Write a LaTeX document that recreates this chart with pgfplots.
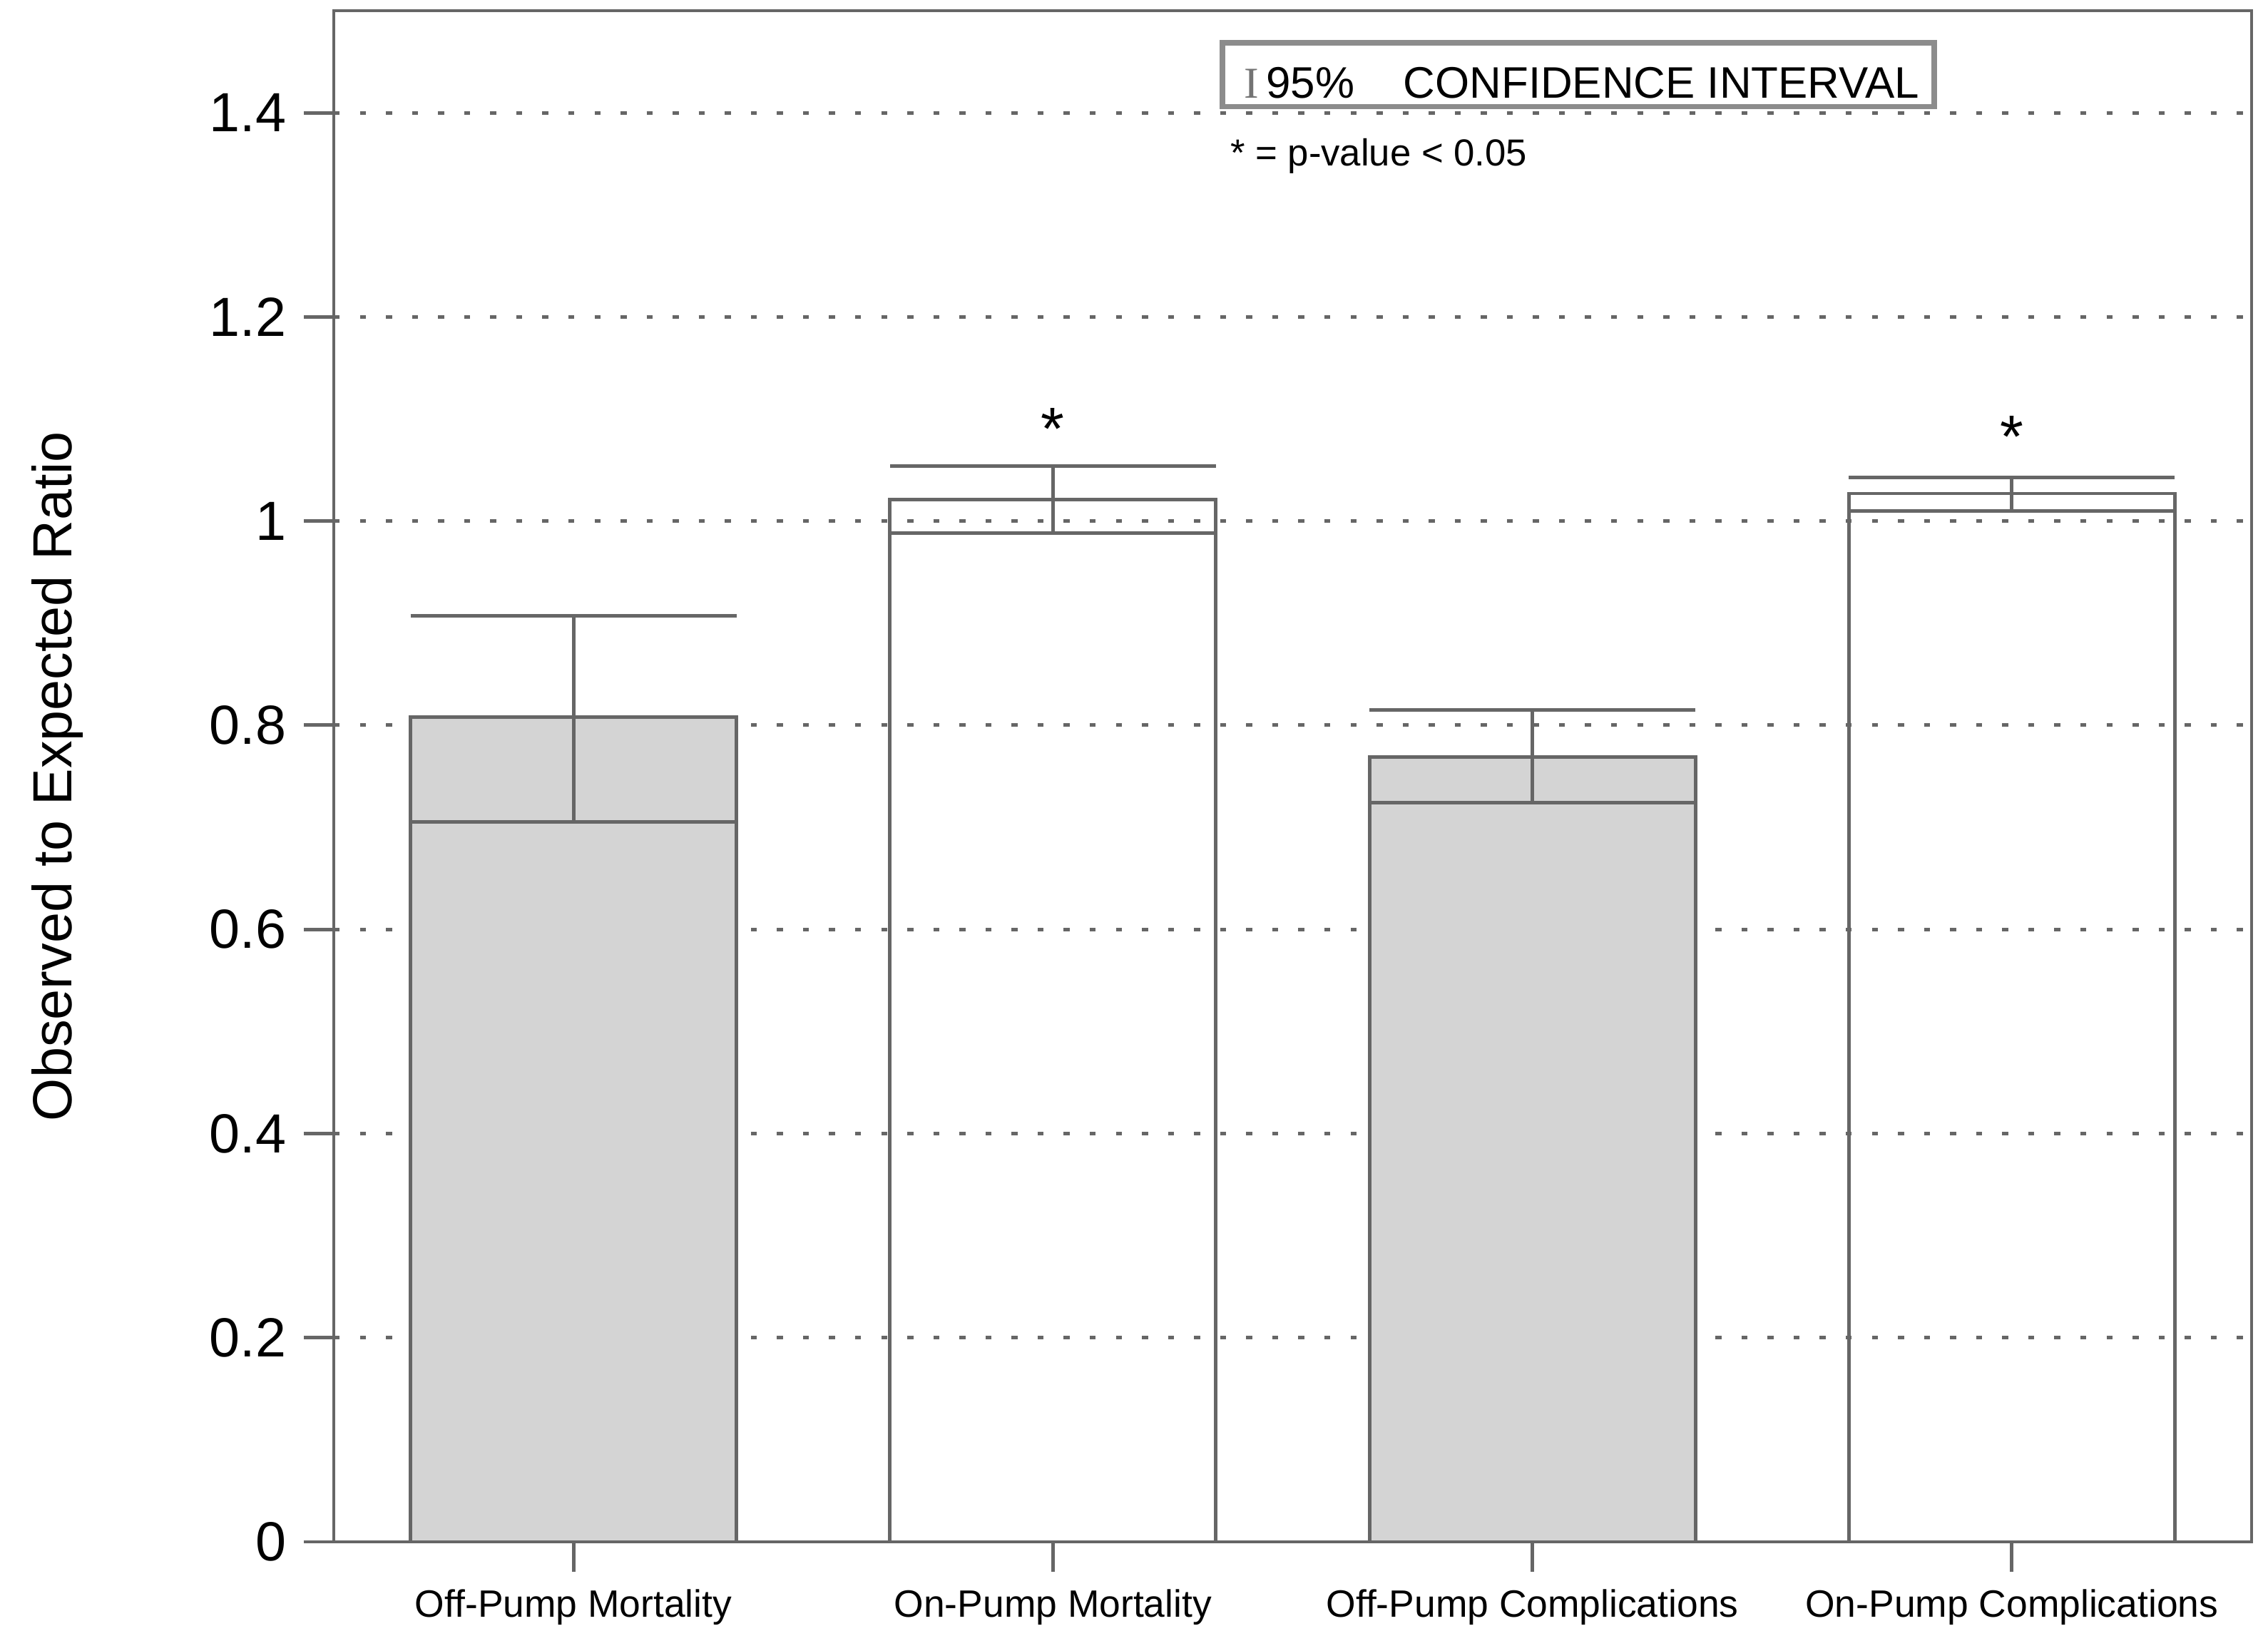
\documentclass[border=0pt]{standalone}
\usepackage{fontspec}
\setmainfont{Liberation Sans}
\newfontfamily\seriffont{Liberation Serif}
\usepackage{pgfplots}
\pgfplotsset{compat=1.18}
\begin{document}
\begin{tikzpicture}[x=1cm,y=1cm]
\path (-2.34,-0.59) rectangle (13.56,10.81);
\begin{axis}[
  at={(0,0)}, anchor=south west,
  scale only axis, width=13.445cm, height=10.735cm,
  xmin=-0.5, xmax=3.5, ymin=0, ymax=1.5,
  xtick={0,1,2,3},
  xticklabels={Off-Pump Mortality, On-Pump Mortality, Off-Pump Complications, On-Pump Complications},
  ytick={0,0.2,0.4,0.6,0.8,1,1.2,1.4},
  tick align=outside, xtick pos=bottom, ytick pos=left,
  major tick length=0.21cm,
  tick style={black!60, line width=0.7pt},
  axis line style={black!60, line width=0.7pt},
  ymajorgrids, grid style={black!60, line width=0.7pt, dash pattern=on 1.2pt off 4pt},
  /pgf/number format/assume math mode=true,
  yticklabel style={font=\fontsize{11}{13}\selectfont},
  xticklabel style={font=\fontsize{7.6}{9}\selectfont, inner sep=0pt, anchor=north, yshift=-0.115cm},
  ylabel={Observed to Expected Ratio},
  ylabel style={font=\fontsize{11}{13}\selectfont, at={(axis description cs:0,0.5)}, anchor=north, inner sep=0pt, yshift=2.125cm},
  clip=false,
]
\addplot[ybar, bar width=0.68, bar shift=0pt, fill=black!17, draw=black!60, line width=0.7pt,
  error bars/.cd, y dir=both, y explicit, error mark=|,
  error bar style={black!60, line width=0.7pt},
  error mark options={black!60, line width=0.7pt, mark size=1.143cm}]
  coordinates {(0,0.808) += (0,0.099) -= (0,0.103) (2,0.769) += (0,0.046) -= (0,0.045)};
\addplot[ybar, bar width=0.68, bar shift=0pt, fill=none, draw=black!60, line width=0.7pt,
  error bars/.cd, y dir=both, y explicit, error mark=|,
  error bar style={black!60, line width=0.7pt},
  error mark options={black!60, line width=0.7pt, mark size=1.143cm}]
  coordinates {(1,1.021) += (0,0.033) -= (0,0.033) (3,1.027) += (0,0.016) -= (0,0.017)};
\node[font=\fontsize{12}{14}\selectfont, anchor=base, inner sep=0pt] at (axis cs:1,1.070) {*};
\node[font=\fontsize{12}{14}\selectfont, anchor=base, inner sep=0pt] at (axis cs:3,1.062) {*};
\draw[black!45, line width=1.1pt] (axis cs:1.353,1.406) rectangle (axis cs:2.838,1.4685);
\node[font=\fontsize{8.8}{10}\selectfont, anchor=base west, inner sep=0pt] at (axis cs:1.397,1.4147) {{\color{black!55}\seriffont I}\,95\%};
\node[font=\fontsize{8.8}{10}\selectfont, anchor=base west, inner sep=0pt] at (axis cs:1.729,1.4147) {CONFIDENCE INTERVAL};
\node[font=\fontsize{7.5}{9}\selectfont, anchor=base west, inner sep=0pt] at (axis cs:1.368,1.348) {* = p-value < 0.05};
\end{axis}
\end{tikzpicture}
\end{document}
